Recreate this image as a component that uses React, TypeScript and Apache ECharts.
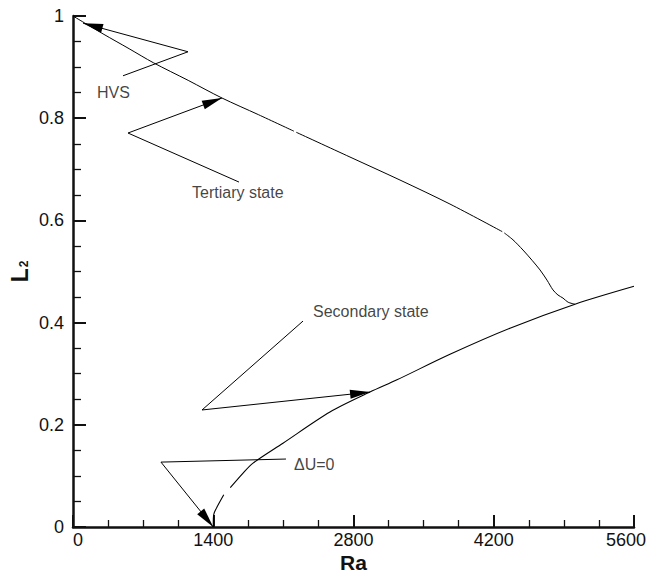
import React, { useEffect, useRef } from "react";
import * as echarts from "echarts";

// Upper branch (HVS / tertiary state) — null marks the small breaks in the curve
const upperRa = [0, 300, 560, 802, 1150, 1487, 1850, 2205, 2215, 2228, 2765, 3264, 3763, 4285, 4295, 4305, 4392, 4492, 4582, 4662, 4732, 4791, 4841, 4891, 4941, 5011];
const upperL = [1.0, 0.965, 0.936, 0.9086, 0.874, 0.8395, 0.807, 0.7746, null, 0.7725, 0.724, 0.679, 0.632, 0.578, null, 0.5755, 0.562, 0.542, 0.522, 0.503, 0.483, 0.464, 0.454, 0.448, 0.44, 0.436];

// Lower branch (secondary state)
const lowerRa = [1400, 1402, 1410, 1440, 1505, 1530, 1570, 1700, 1797, 2096, 2565, 2964, 3234, 3763, 4362, 5011, 5600];
const lowerL = [0, 0.02, 0.028, 0.04, 0.063, null, 0.077, 0.106, 0.125, 0.164, 0.225, 0.264, 0.288, 0.338, 0.389, 0.436, 0.471];

const xMin = 0;
const xMax = 5600;
const xStep = 1400;
const yMin = 0;
const yMax = 1;
const yStep = 0.2;

// Annotations: text, text anchor, leader start, elbow, arrow tip (data coords)
const noteNames = ["HVS", "Tertiary state", "Secondary state", "ΔU=0"];
const noteTextAt = [[240, 0.851], [1188, 0.654], [2396, 0.421], [2206, 0.123]];
const noteFrom = [[499, 0.883], [1657, 0.675], [2296, 0.403], [2126, 0.133]];
const noteElbow = [[1148, 0.93], [549, 0.771], [1288, 0.229], [878, 0.127]];
const noteTip = [[100, 0.986], [1487, 0.8395], [2965, 0.264], [1400, 0]];

const FONT = "'Liberation Sans', Arial, Helvetica, sans-serif";
const INK = "#111";

function zip(xs: number[], ys: (number | null)[]) {
  return xs.map((x, i) => [x, ys[i] === null ? "-" : ys[i]]);
}

export default function App() {
  const ref = useRef<HTMLDivElement>(null);
  useEffect(() => {
    if (!ref.current) return;
    const chart = echarts.init(ref.current, null, { renderer: "svg" });

    const markData: any[] = [];
    noteNames.forEach((_, i) => {
      markData.push([
        { coord: noteFrom[i], symbol: "none" },
        { coord: noteElbow[i], symbol: "none" },
      ]);
      markData.push([
        { coord: noteElbow[i], symbol: "none" },
        { coord: noteTip[i], symbol: "triangle", symbolSize: [9, 20], symbolOffset: [0, 10] },
      ]);
    });

    chart.setOption({
      animation: false,
      backgroundColor: "#fff",
      grid: { left: 73, right: 16, top: 16, bottom: 46, containLabel: false, outerBoundsMode: "none" },
      xAxis: {
        type: "value",
        min: xMin,
        max: xMax,
        interval: xStep,
        name: "Ra",
        nameLocation: "middle",
        nameGap: 25,
        nameMoveOverlap: false,
        nameTextStyle: { fontFamily: FONT, fontSize: 21, lineHeight: 20, fontWeight: "bold", color: INK, verticalAlign: "top" },
        axisLine: { show: true, lineStyle: { color: INK, width: 2.5 } },
        axisTick: { show: true, inside: true, length: 12, lineStyle: { color: INK, width: 2 } },
        minorTick: { show: true, splitNumber: 4, length: 7, lineStyle: { color: INK, width: 1.3 } },
        splitLine: { show: false },
        axisLabel: {
          margin: 4,
          fontFamily: FONT,
          fontSize: 18,
          lineHeight: 18,
          color: INK,
          formatter: (v: number) => (v === xMin ? "{f|" + v + "}" : v === xMax ? "{l|" + v + "}" : String(v)),
          rich: {
            f: { fontFamily: FONT, fontSize: 18, lineHeight: 18, color: INK, padding: [0, 0, 0, 10] },
            l: { fontFamily: FONT, fontSize: 18, lineHeight: 18, color: INK, padding: [0, 16, 0, 0] },
          },
        },
      },
      yAxis: {
        type: "value",
        min: yMin,
        max: yMax,
        interval: yStep,
        name: "{a|L}{b|2}",
        nameLocation: "middle",
        nameRotate: 90,
        nameGap: 42,
        nameMoveOverlap: false,
        nameTextStyle: {
          rich: {
            a: { fontFamily: FONT, fontSize: 23, fontWeight: "bold", color: INK },
            b: { fontFamily: FONT, fontSize: 12, fontWeight: "bold", color: INK, padding: [9, 0, 0, 1] },
          },
        },
        axisLine: { show: true, lineStyle: { color: INK, width: 2.5 } },
        axisTick: { show: true, inside: true, length: 13, lineStyle: { color: INK, width: 2 } },
        minorTick: { show: true, splitNumber: 4, length: 8, lineStyle: { color: INK, width: 1.3 } },
        splitLine: { show: false },
        axisLabel: { margin: 9, fontFamily: FONT, fontSize: 18, color: INK },
      },
      series: [
        {
          type: "line",
          name: "upper",
          data: zip(upperRa, upperL),
          showSymbol: false,
          connectNulls: false,
          smooth: 0.3,
          silent: true,
          lineStyle: { color: "#000", width: 1 },
        },
        {
          type: "line",
          name: "lower",
          data: zip(lowerRa, lowerL),
          showSymbol: false,
          connectNulls: false,
          smooth: 0.3,
          silent: true,
          lineStyle: { color: "#000", width: 1.1 },
        },
        {
          type: "scatter",
          name: "notes",
          silent: true,
          symbolSize: 0,
          data: noteNames.map((n, i) => ({ name: n, value: noteTextAt[i] })),
          label: {
            show: true,
            position: "right",
            distance: 0,
            formatter: "{b}",
            fontFamily: FONT,
            fontSize: 16,
            color: INK,
          },
          markLine: {
            silent: true,
            symbol: "none",
            label: { show: false },
            lineStyle: { color: "#000", width: 1, type: "solid" },
            itemStyle: { color: "#000" },
            emphasis: { disabled: true },
            data: markData,
          },
        },
      ],
    });
    return () => chart.dispose();
  }, []);
  return <div ref={ref} style={{ width: 650, height: 573, position: "absolute", left: 0, top: 0 }} />;
}
